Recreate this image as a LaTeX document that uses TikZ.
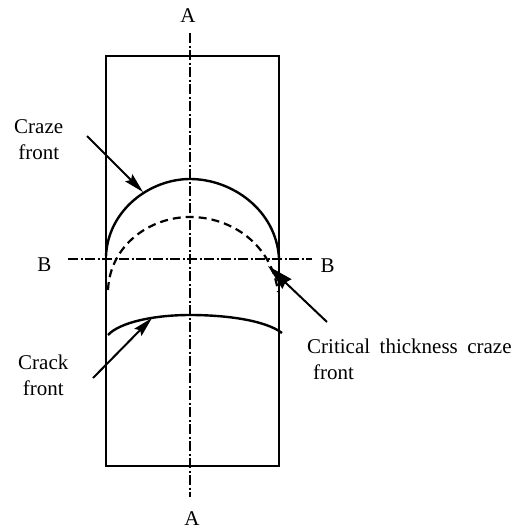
\documentclass[tikz,border=0pt]{standalone}
\usepackage{fontspec}
\setmainfont{Liberation Serif}
\usetikzlibrary{arrows.meta}
\tikzset{
 px/.style={x=1pt,y=-1pt},
 solidline/.style={line width=2.3pt,black},
 front/.style={line width=2.4pt,black},
 dashfront/.style={line width=2.2pt,black,dash pattern=on 8pt off 5pt},
 axis/.style={line width=1.5pt,black,dash pattern=on 10pt off 2.5pt on 2pt off 2.5pt},
 pointer/.style={line width=2pt,black,-{Stealth[length=20pt,width=10pt,inset=3pt]}},
 widepointer/.style={line width=2pt,black,-{Stealth[length=26pt,width=13pt,inset=2pt]}},
 lab/.style={font=\fontsize{21}{26}\selectfont,inner sep=0pt,text=black}
}
\begin{document}
\begin{tikzpicture}[px]
\useasboundingbox (0,0) rectangle (516,530);
\coordinate (tl) at (106,56); \coordinate (br) at (279,466);
\draw[solidline] (tl) rectangle (br);
\coordinate (a1) at (190,33); \coordinate (a2) at (190,497);
\coordinate (b1) at (68,259); \coordinate (b2) at (312,259);
\draw[axis] (a1) -- (a2);
\draw[axis] (b1) -- (b2);
\node[lab,anchor=base] (A1) at (188,23) {A};
\node[lab,anchor=base] (A2) at (192,525.5) {A};
\node[lab,anchor=base] (B1) at (44.5,271) {B};
\node[lab,anchor=base] (B2) at (327.5,272) {B};
\draw[front] (106,256) .. controls (108,210) and (150,179) .. (190,179) .. controls (232,179) and (276,210) .. (279,258);
\draw[dashfront] (108,290) .. controls (110,245) and (150,217) .. (190,217) .. controls (232,217) and (272,245) .. (278,292);
\draw[front] (108,335) .. controls (120,322) and (155,315) .. (190,315) .. controls (225,315) and (265,320) .. (282,333);
\node[lab,anchor=west,align=center] (cf) at (14,140) {Craze\\front};
\node[lab,anchor=west,align=center] (kf) at (18,375) {Crack\\front};
\node[lab,anchor=west,align=left] (ct) at (307,359) {\spaceskip=9.5pt Critical thickness craze\\\hspace*{6pt}front};
\coordinate (p1) at (87,136); \coordinate (p1e) at (143,192);
\coordinate (p2) at (93,378); \coordinate (p2e) at (152,318);
\coordinate (p3) at (327,322); \coordinate (p3e) at (268,266);
\draw[pointer] (p1) -- (p1e);
\draw[pointer] (p2) -- (p2e);
\draw[widepointer] (p3) -- (p3e);
\end{tikzpicture}
\end{document}
